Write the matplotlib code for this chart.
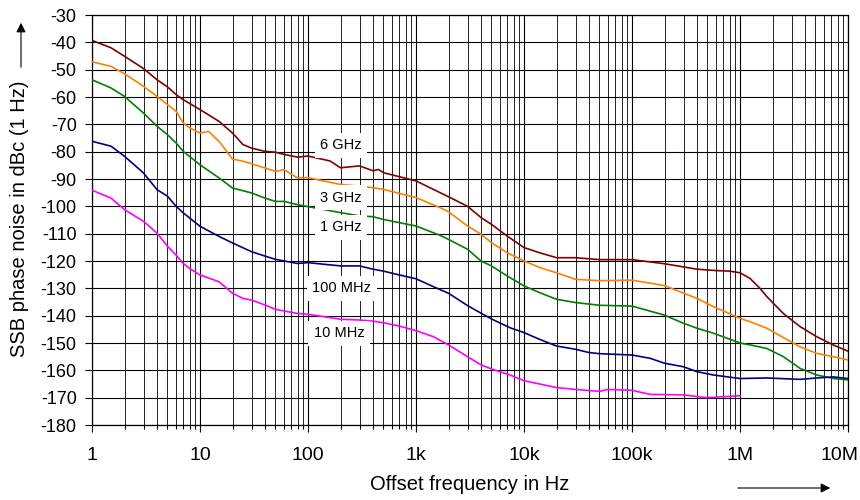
"""
SSB phase noise vs. offset frequency for several carrier frequencies.
"""
import matplotlib
matplotlib.use("Agg")
import matplotlib.pyplot as plt
from matplotlib.patches import FancyArrowPatch
from matplotlib.ticker import FixedLocator, NullFormatter
from matplotlib.transforms import ScaledTranslation

plt.rcParams['font.family'] = ['Liberation Sans', 'DejaVu Sans']

# ---------------------------------------------------------------------------
# Data
# ---------------------------------------------------------------------------
f_6ghz = [1, 1.5, 2, 3, 4, 5, 6, 7, 10, 15, 20, 25, 30, 40, 50, 60, 80, 100,
          160, 200, 300, 400, 450, 500, 1e3, 2e3, 3e3, 4e3, 5e3, 7e3, 1e4,
          1.4e4, 2e4, 3e4, 5e4, 1e5, 2e5, 4e5, 6e5, 8e5, 1e6, 1.24e6, 1.53e6,
          1.77e6, 2.52e6, 3.6e6, 5.13e6, 7.3e6, 1e7]
pn_6ghz = [-39.3, -42, -45.1, -49.6, -53.7, -56.3, -59.1, -61, -64.6, -68.9,
           -73.2, -77.4, -78.7, -79.9, -80.2, -81, -82, -81.6, -83.4, -85.9,
           -85.2, -87, -86.5, -87.7, -90.7, -96.5, -100, -104.1, -106.6,
           -110.9, -115.1, -117, -118.8, -118.8, -119.5, -119.5, -121, -123,
           -123.5, -123.7, -124.3, -126.4, -130, -133, -139.2, -144, -147.7,
           -150.7, -153]

f_3ghz = [1, 1.5, 2, 3, 4, 5, 6, 7, 8, 10, 12, 15, 20, 25, 30, 40, 50, 60, 80,
          100, 200, 300, 400, 500, 1e3, 1.67e3, 2e3, 3e3, 4e3, 5e3, 7e3, 1e4,
          1.4e4, 2e4, 3e4, 5e4, 1e5, 2e5, 4e5, 5.66e5, 7.53e5, 1e6, 1.24e6,
          1.77e6, 2.52e6, 3.6e6, 5.13e6, 7.3e6, 1e7]
pn_3ghz = [-47.1, -48.8, -51.5, -56.1, -59.8, -62.8, -65.2, -69.5, -71.3,
           -73.2, -72.6, -76.2, -82.7, -83.5, -84.4, -86, -87.2, -86.6, -89.6,
           -89.5, -92, -92.6, -93.2, -93.8, -96.8, -100.5, -102, -107.2,
           -110.2, -113.3, -117, -120, -122.4, -124.3, -126.7, -127.2, -127,
           -129, -133.7, -136.7, -138.8, -141, -142.2, -144.6, -148, -151.4,
           -153.8, -155, -156.2]

f_1ghz = [1, 1.5, 2, 3, 4, 5, 6, 7, 10, 15, 20, 30, 40, 50, 60, 80, 100, 200,
          300, 400, 500, 1e3, 1.67e3, 2e3, 3e3, 4e3, 5e3, 7e3, 1e4, 1.4e4,
          2e4, 3e4, 5e4, 1e5, 2e5, 3e5, 4e5, 5.66e5, 1e6, 1.24e6, 1.77e6,
          2.52e6, 3.6e6, 5.13e6, 7.3e6, 1e7]
pn_1ghz = [-53.7, -56.7, -59.8, -65.9, -70.7, -73.8, -76.8, -79.9, -84.8,
           -89.6, -93.3, -95.1, -97, -98.2, -98.2, -99.4, -100.1, -102.3,
           -103.5, -103.8, -104.8, -107.2, -110.6, -112.1, -115.7, -120,
           -121.8, -125.5, -129.1, -131.6, -134, -135.2, -136.2, -136.5,
           -139.8, -142.8, -144.6, -146.4, -150, -150.7, -152, -155, -159.3,
           -161.7, -163, -163.5]

f_100mhz = [1, 1.5, 2, 3, 4, 5, 6, 7, 10, 15, 20, 30, 40, 50, 80, 100, 200,
            300, 400, 500, 700, 1e3, 1.45e3, 2e3, 3e3, 4e3, 5e3, 7.4e3, 1e4,
            1.4e4, 2e4, 3e4, 4e4, 5e4, 1e5, 1.47e5, 2e5, 3e5, 4e5, 5.66e5,
            1e6, 1.77e6, 3.6e6, 5.13e6, 7.3e6, 1e7]
pn_100mhz = [-76.2, -78, -81.7, -87.8, -93.9, -96.3, -100, -102.4, -107.3,
             -111, -113.4, -116.6, -118.2, -119.4, -120.9, -120.6, -121.8,
             -121.8, -123, -123.7, -125.1, -126.5, -129.4, -131.8, -136.3,
             -139.1, -141.2, -144.4, -146.2, -148.7, -151.1, -152.3, -153.5,
             -153.9, -154.4, -155.6, -157.4, -158.7, -160.5, -161.7, -163,
             -162.8, -163.3, -162.8, -162.4, -163]

f_10mhz = [1, 1.5, 2, 3, 4, 5, 6, 7, 8, 10, 15, 20, 25, 30, 40, 50, 80, 100,
           200, 300, 400, 500, 700, 1e3, 1.45e3, 2e3, 3e3, 4e3, 5e3, 7.4e3,
           1e4, 2e4, 3e4, 5e4, 6e4, 1e5, 1.47e5, 3e5, 4.9e5, 1e6]
pn_10mhz = [-94.1, -97, -101.2, -105.5, -109.8, -114.6, -117.8, -120.9,
            -122.7, -125.1, -127.6, -131.8, -133.7, -134.3, -136.1, -137.7,
            -139.2, -139.5, -141.3, -141.6, -142, -142.6, -143.8, -145.5,
            -147.7, -150.7, -155, -158, -159.5, -161.7, -163.8, -166.3, -167,
            -167.7, -167, -167.3, -168.8, -169, -170, -169.3]

series = [
    ('6 GHz', f_6ghz, pn_6ghz, '#800000'),
    ('3 GHz', f_3ghz, pn_3ghz, '#ff8000'),
    ('1 GHz', f_1ghz, pn_1ghz, '#008000'),
    ('100 MHz', f_100mhz, pn_100mhz, '#000080'),
    ('10 MHz', f_10mhz, pn_10mhz, '#ff00ff'),
]

# label positions (frequency, dBc)
label_pos = {
    '6 GHz': (202, -77.6),
    '3 GHz': (202, -96.8),
    '1 GHz': (202, -107.6),
    '100 MHz': (206, -129.9),
    '10 MHz': (194, -146.4),
}

x_ticks = [1, 10, 100, 1e3, 1e4, 1e5, 1e6, 1e7]
x_labels = ['1', '10', '100', '1k', '10k', '100k', '1M', '10M']
y_ticks = list(range(-180, -29, 10))

# ---------------------------------------------------------------------------
fig = plt.figure(figsize=(8.6, 5.0), dpi=100)
ax = fig.add_axes([92 / 860, 75 / 500, 756 / 860, 410 / 500])

for name, f, pn, col in series:
    ax.plot(f, pn, color=col, lw=1.2, zorder=3)

ax.set_xscale('log')
ax.set_xlim(1, 1e7)
ax.set_ylim(-180, -30)

ax.set_xticks(x_ticks)
ax.set_xticklabels(x_labels, fontsize=14)
minors = [m * 10 ** d for d in range(7) for m in range(2, 10)]
ax.xaxis.set_minor_locator(FixedLocator(minors))
ax.xaxis.set_minor_formatter(NullFormatter())
ax.set_yticks(y_ticks)
ax.set_yticklabels([str(v) for v in y_ticks], fontsize=13)

ax.tick_params(axis='x', which='major', length=5, width=0.8, pad=11)
ax.tick_params(axis='x', which='minor', length=3, width=0.8)
ax.tick_params(axis='y', which='major', length=5, width=0.8, pad=6)

# last label sits a bit to the left so it stays inside the figure
last = ax.get_xticklabels()[-1]
last.set_transform(last.get_transform() +
                   ScaledTranslation(-9 / 100, 0, fig.dpi_scale_trans))

ax.grid(True, which='major', color='black', lw=0.8, zorder=1)
ax.grid(True, which='minor', axis='x', color='#222222', lw=0.7, zorder=1)
for s in ax.spines.values():
    s.set_color('black')
    s.set_linewidth(0.9)

for name, (fx, fy) in label_pos.items():
    ax.text(fx, fy, name, fontsize=10.5, ha='center', va='center', zorder=4,
            bbox=dict(facecolor='white', edgecolor='none', pad=4))

fig.text(470 / 860, 1 - 485 / 500, 'Offset frequency in Hz', fontsize=14.5,
         ha='center', va='center')
fig.text(20 / 860, 1 - 219 / 500, 'SSB phase noise in dBc (1 Hz)',
         fontsize=14.5, ha='center', va='center', rotation=90)

# direction arrows
fig.add_artist(FancyArrowPatch(
    (21 / 860, 1 - 70 / 500), (21 / 860, 1 - 20 / 500),
    transform=fig.transFigure, arrowstyle='-|>', mutation_scale=14,
    color='black', lw=0.8))
fig.add_artist(FancyArrowPatch(
    (735 / 860, 1 - 488 / 500), (833 / 860, 1 - 488 / 500),
    transform=fig.transFigure, arrowstyle='-|>', mutation_scale=14,
    color='black', lw=0.8))

fig.savefig('out.png', dpi=100)
